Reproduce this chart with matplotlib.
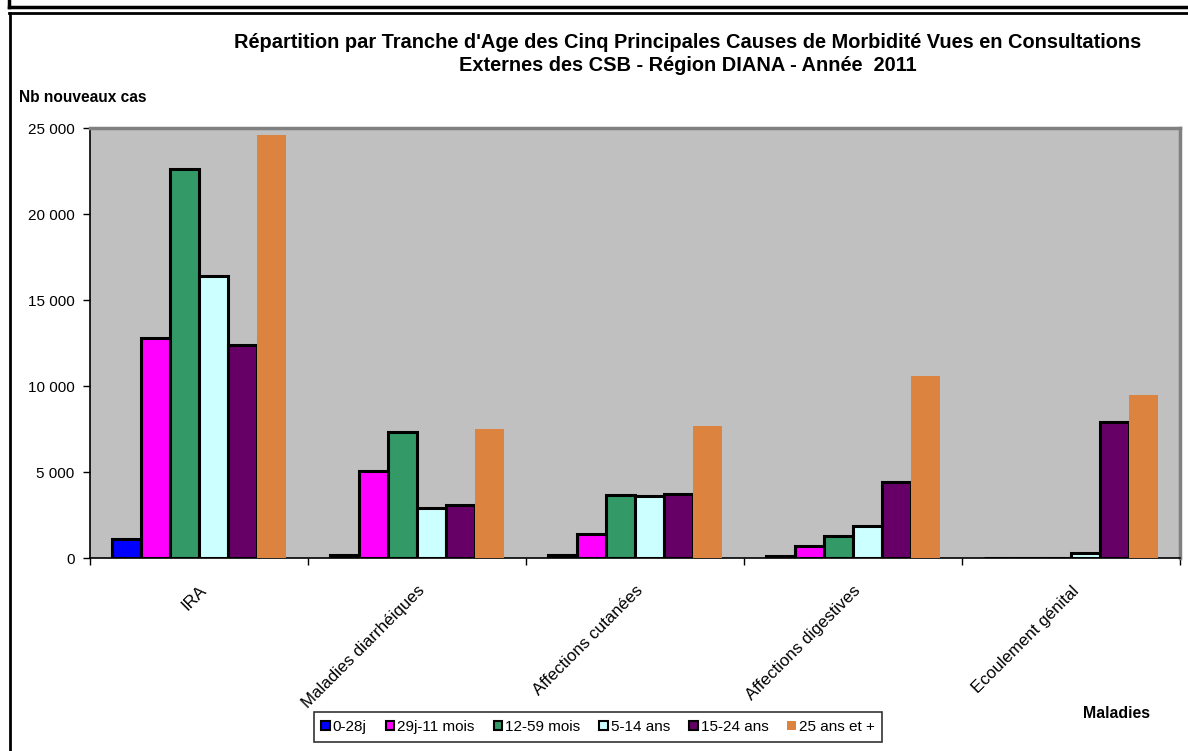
import numpy as np
import matplotlib
matplotlib.use("Agg")
import matplotlib.pyplot as plt
from matplotlib.lines import Line2D
from matplotlib.ticker import FuncFormatter

plt.rcParams['font.family'] = ['Liberation Sans', 'DejaVu Sans']

categories = ["IRA", "Maladies diarrhéiques", "Affections cutanées",
              "Affections digestives", "Ecoulement génital"]
series_names = ["0-28j", "29j-11 mois", "12-59 mois", "5-14 ans", "15-24 ans", "25 ans et +"]
values_0_28j = [1100, 150, 150, 100, 0]
values_29j_11m = [12800, 5050, 1400, 700, 0]
values_12_59m = [22600, 7300, 3650, 1300, 0]
values_5_14 = [16400, 2900, 3600, 1850, 300]
values_15_24 = [12400, 3100, 3750, 4400, 7900]
values_25plus = [24600, 7500, 7700, 10600, 9500]
series_values = [values_0_28j, values_29j_11m, values_12_59m, values_5_14, values_15_24, values_25plus]
colors = ["#0000FF", "#FF00FF", "#339966", "#CCFFFF", "#660066", "#DC843F"]
edges = ["black", "black", "black", "black", "black", "none"]
yticks = [0, 5000, 10000, 15000, 20000, 25000]

fig = plt.figure(figsize=(11.88, 7.51), dpi=100)
ax = fig.add_axes([90/1188, 1-558/751, 1090/1188, 430/751])
ax.set_facecolor("#C0C0C0")

n = len(series_names)
w = 1/7.5
x = np.arange(len(categories))
for i, (name, vals) in enumerate(zip(series_names, series_values)):
    off = (i - (n-1)/2) * w
    ax.bar(x + off, vals, width=w, color=colors[i],
           edgecolor=edges[i], linewidth=2.2 if edges[i] != "none" else 0,
           label=name, zorder=3)

ax.set_xlim(-0.5, len(categories)-0.5)
ax.set_ylim(0, 25000)
ax.set_yticks(yticks)
ax.yaxis.set_major_formatter(FuncFormatter(lambda v, p: f"{int(v):,}".replace(",", " ")))
ax.tick_params(axis='y', direction='out', length=5, width=1, labelsize=11, pad=6)
# category boundary ticks
ax.set_xticks(np.arange(-0.5, len(categories)+0.5, 1.0))
ax.set_xticklabels([])
ax.tick_params(axis='x', which='major', direction='out', length=5, width=1)
ax.set_xticks(x, minor=True)
ax.set_xticklabels(categories, minor=True, rotation=45, ha='right',
                   rotation_mode='anchor', fontsize=12.2)
ax.tick_params(axis='x', which='minor', length=0, pad=18)

for s in ['left', 'bottom']:
    ax.spines[s].set_color('black')
    ax.spines[s].set_linewidth(1.2)
for s in ['top', 'right']:
    ax.spines[s].set_color('#808080')
    ax.spines[s].set_linewidth(2.5)

fig.text(688/1188, 1-42/751, "Répartition par Tranche d'Age des Cinq Principales Causes de Morbidité Vues en Consultations",
         ha='center', va='center', fontsize=14.4, fontweight='bold')
fig.text(688/1188, 1-65.5/751, "Externes des CSB - Région DIANA - Année  2011",
         ha='center', va='center', fontsize=14.4, fontweight='bold')
fig.text(19/1188, 1-97/751, "Nb nouveaux cas", ha='left', va='center', fontsize=11.2, fontweight='bold')
fig.text(1116/1188, 1-713/751, "Maladies", ha='center', va='center', fontsize=11.4, fontweight='bold')

leg = fig.legend(loc='center', bbox_to_anchor=(598/1188, 1-727/751), ncol=6,
                 frameon=True, fancybox=False, edgecolor='black', fontsize=11,
                 handlelength=0.55, handleheight=0.55, handletextpad=0.2, columnspacing=1.25,
                 borderpad=0.5)
leg.get_frame().set_linewidth(1.2)
for h in leg.legend_handles:
    h.set_linewidth(1.5)

# outer frames
fig.add_artist(Line2D([9/1188, 1], [1-7/751, 1-7/751], color='black', lw=2.5))
fig.add_artist(Line2D([9/1188, 9/1188], [1, 1-7/751], color='black', lw=2.5))
fig.add_artist(Line2D([9/1188, 1], [1-13/751, 1-13/751], color='black', lw=2.0))
fig.add_artist(Line2D([9.5/1188, 9.5/1188], [0, 1-13/751], color='black', lw=2.0))

fig.savefig("out.png", dpi=100)
